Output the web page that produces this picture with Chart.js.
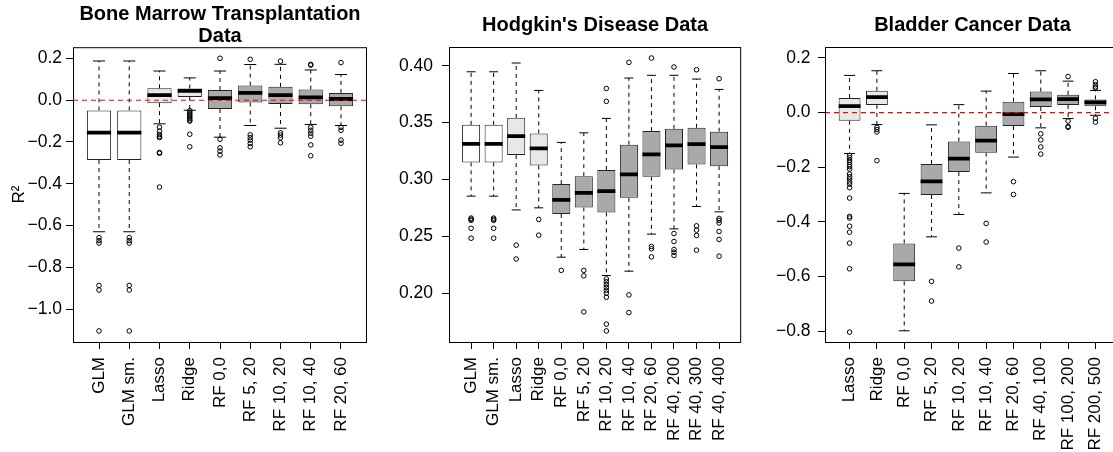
<!DOCTYPE html>
<html>
<head>
<meta charset="utf-8">
<script src="https://cdn.jsdelivr.net/npm/chart.js@4.4.1/dist/chart.umd.min.js"></script>
<style>
html, body { margin: 0; padding: 0; background: #fff; overflow: hidden; }
#wrap { position: relative; width: 1113px; height: 452px; }
canvas { position: absolute; top: 0; }
</style>
</head>
<body>
<div id="wrap">
<canvas id="bmt" width="372" height="452" style="left:0px"></canvas>
<canvas id="hod" width="376" height="452" style="left:372px"></canvas>
<canvas id="bla" width="377" height="452" style="left:748px"></canvas>
</div>
<script>
// Bone marrow transplantation
const bmtLabels = ["GLM", "GLM sm.", "Lasso", "Ridge", "RF 0,0", "RF 5, 20", "RF 10, 20", "RF 10, 40", "RF 20, 60"];
const bmtLow  = [-0.630, -0.630, -0.113, -0.048, -0.177, -0.121, -0.134, -0.116, -0.121];
const bmtQ1   = [-0.286, -0.286, -0.014, 0.016, -0.042, -0.011, -0.018, -0.019, -0.029];
const bmtMed  = [-0.155, -0.155, 0.024, 0.045, 0.010, 0.035, 0.024, 0.014, 0.006];
const bmtQ3   = [-0.049, -0.049, 0.057, 0.056, 0.049, 0.070, 0.064, 0.051, 0.035];
const bmtHigh = [0.188, 0.188, 0.140, 0.107, 0.140, 0.171, 0.172, 0.145, 0.123];
const bmtOut  = [
    [-0.658, -0.672, -0.684, -0.887, -0.909, -1.105],
    [-0.658, -0.672, -0.684, -0.887, -0.909, -1.105],
    [-0.129, -0.148, -0.164, -0.173, -0.179, -0.250, -0.254, -0.416],
    [-0.050, -0.058, -0.065, -0.072, -0.080, -0.088, -0.095, -0.100, -0.163, -0.223],
    [0.201, -0.187, -0.228, -0.244, -0.262],
    [0.196, -0.166, -0.179, -0.191, -0.207, -0.223],
    [0.187, -0.156, -0.167, -0.180, -0.204],
    [0.172, 0.168, -0.129, -0.144, -0.158, -0.172, -0.214, -0.266],
    [0.180, -0.130, -0.144, -0.191, -0.206]
];
const bmtTicks = [-1.0, -0.8, -0.6, -0.4, -0.2, 0.0, 0.2];

// Hodgkin's disease
const hodLabels = ["GLM", "GLM sm.", "Lasso", "Ridge", "RF 0,0", "RF 5, 20", "RF 10, 20", "RF 10, 40", "RF 20, 60", "RF 40, 200", "RF 40, 300", "RF 40, 400"];
const hodLow  = [0.2853, 0.2853, 0.2732, 0.2750, 0.2316, 0.2384, 0.2155, 0.2193, 0.2519, 0.2565, 0.2762, 0.2715];
const hodQ1   = [0.3150, 0.3150, 0.3214, 0.3123, 0.2697, 0.2753, 0.2710, 0.2838, 0.3023, 0.3088, 0.3132, 0.3117];
const hodMed  = [0.3313, 0.3313, 0.3381, 0.3273, 0.2820, 0.2882, 0.2897, 0.3044, 0.3220, 0.3300, 0.3311, 0.3284];
const hodQ3   = [0.3480, 0.3480, 0.3542, 0.3405, 0.2959, 0.3029, 0.3082, 0.3305, 0.3425, 0.3445, 0.3454, 0.3420];
const hodHigh = [0.3947, 0.3947, 0.4024, 0.3783, 0.3326, 0.3410, 0.3537, 0.3892, 0.3916, 0.3916, 0.3883, 0.3792];
const hodOut  = [
    [0.2660, 0.2650, 0.2640, 0.2570, 0.2483],
    [0.2660, 0.2650, 0.2640, 0.2570, 0.2483],
    [0.2422, 0.2300],
    [0.2648, 0.2510],
    [0.2200],
    [0.2200, 0.2152, 0.1835],
    [0.3800, 0.3687, 0.2125, 0.2100, 0.2075, 0.2050, 0.2025, 0.2000, 0.1964, 0.1727, 0.1667],
    [0.4030, 0.1984, 0.1829],
    [0.4068, 0.2410, 0.2390, 0.2319],
    [0.3989, 0.2524, 0.2454, 0.2384, 0.2360, 0.2331],
    [0.3965, 0.2592, 0.2554, 0.2507, 0.2378],
    [0.3886, 0.2657, 0.2640, 0.2617, 0.2542, 0.2472, 0.2325]
];
const hodTicks = [0.20, 0.25, 0.30, 0.35, 0.40];

// Bladder cancer
const blaLabels = ["Lasso", "Ridge", "RF 0,0", "RF 5, 20", "RF 10, 20", "RF 10, 40", "RF 20, 60", "RF 40, 100", "RF 100, 200", "RF 200, 500"];
const blaLow  = [-0.150, -0.044, -0.799, -0.455, -0.373, -0.294, -0.163, -0.056, -0.022, -0.010];
const blaQ1   = [-0.030, 0.028, -0.618, -0.302, -0.218, -0.147, -0.049, 0.020, 0.028, 0.023];
const blaMed  = [0.0235, 0.0565, -0.556, -0.252, -0.169, -0.103, -0.006, 0.048, 0.049, 0.037];
const blaQ3   = [0.053, 0.0796, -0.479, -0.188, -0.106, -0.048, 0.040, 0.077, 0.065, 0.048];
const blaHigh = [0.136, 0.153, -0.296, -0.045, 0.029, 0.0785, 0.143, 0.153, 0.115, 0.081];
const blaOut  = [
    [-0.157, -0.165, -0.174, -0.182, -0.191, -0.198, -0.207, -0.225, -0.235, -0.243, -0.254, -0.262, -0.275, -0.313, -0.380, -0.386, -0.416, -0.438, -0.478, -0.572, -0.804],
    [-0.054, -0.062, -0.071, -0.176],
    [],
    [-0.618, -0.690],
    [-0.496, -0.565],
    [-0.406, -0.474],
    [-0.253, -0.300],
    [-0.078, -0.100, -0.126, -0.152],
    [0.132, -0.031, -0.051, -0.054],
    [0.113, 0.102, 0.094, 0.090, -0.021, -0.035]
];
const blaTicks = [-0.8, -0.6, -0.4, -0.2, 0.0, 0.2];

const FONT = '"Liberation Sans", Arial, Helvetica, sans-serif';
Chart.defaults.font.family = FONT;
Chart.defaults.color = "#000";

function boxFill(label) {
    if (label.startsWith("RF")) return "#A9A9A9";
    if (label.startsWith("GLM")) return "#FFFFFF";
    return "#E8E8E8";
}

function fmt(v, digits) {
    return v.toFixed(digits).replace("-", "\u2212");
}

// draws the full R style frame round the plot region
const frame = {
    id: "frame",
    afterDraw(chart) {
        const a = chart.chartArea, ctx = chart.ctx;
        ctx.save();
        ctx.strokeStyle = "#000";
        ctx.lineWidth = 1;
        ctx.strokeRect(a.left + 0.5, a.top + 0.5, a.right - a.left - 1, a.bottom - a.top);
        ctx.restore();
    }
};

function boxplot(id, p) {
    const whiskers = [], caps = [], medians = [], outliers = [];
    p.labels.forEach((l, i) => {
        const x = i + 1;
        whiskers.push({x: x, y: p.q3[i]}, {x: x, y: p.high[i]}, {x: x, y: null});
        whiskers.push({x: x, y: p.q1[i]}, {x: x, y: p.low[i]}, {x: x, y: null});
        caps.push({x: x - 0.2, y: p.high[i]}, {x: x + 0.2, y: p.high[i]}, {x: x, y: null});
        caps.push({x: x - 0.2, y: p.low[i]}, {x: x + 0.2, y: p.low[i]}, {x: x, y: null});
        medians.push({x: x - 0.4, y: p.med[i]}, {x: x + 0.4, y: p.med[i]}, {x: x, y: null});
        p.out[i].forEach(v => outliers.push({x: x, y: v}));
    });

    const datasets = [
        {
            type: "scatter",
            data: outliers,
            pointStyle: "circle",
            pointRadius: 2.3,
            borderWidth: 1,
            borderColor: "#000",
            backgroundColor: "rgba(0,0,0,0)",
            order: 1
        },
        {
            type: "line",
            data: medians,
            borderColor: "#000",
            borderWidth: 3.8,
            pointRadius: 0,
            spanGaps: false,
            order: 2
        },
        {
            type: "bar",
            data: p.labels.map((l, i) => ({x: i + 1, y: [p.q1[i], p.q3[i]]})),
            backgroundColor: p.labels.map(boxFill),
            borderColor: "#222",
            borderWidth: 1,
            borderSkipped: false,
            barPercentage: 0.8,
            categoryPercentage: 1,
            order: 3
        },
        {
            type: "line",
            data: caps,
            borderColor: "#000",
            borderWidth: 1,
            pointRadius: 0,
            spanGaps: false,
            order: 4
        },
        {
            type: "line",
            data: whiskers,
            borderColor: "#000",
            borderWidth: 1,
            borderDash: [4, 4],
            pointRadius: 0,
            spanGaps: false,
            order: 5
        }
    ];

    if (p.zeroLine) {
        datasets.unshift({
            type: "line",
            data: [{x: p.xMin, y: 0}, {x: p.xMax, y: 0}],
            borderColor: "#FF0000",
            borderWidth: 1.2,
            borderDash: [5, 4],
            pointRadius: 0,
            order: 0
        });
    }

    const tickGrid = {
        display: true, offset: false, drawOnChartArea: false, drawTicks: true,
        tickLength: 7, color: "#000", lineWidth: 1
    };

    new Chart(document.getElementById(id), {
        type: "bar",
        data: {datasets: datasets},
        plugins: [frame],
        options: {
            responsive: false,
            devicePixelRatio: 1,
            animation: false,
            layout: {padding: {left: 0, right: p.padRight, top: 0, bottom: 0}},
            plugins: {
                legend: {display: false},
                tooltip: {enabled: false},
                title: {
                    display: true,
                    text: p.title,
                    fullSize: false,
                    color: "#000",
                    font: {size: 20, weight: "bold", lineHeight: "21.8px"},
                    padding: p.titlePad
                }
            },
            scales: {
                x: {
                    type: "linear",
                    min: p.xMin,
                    max: p.xMax,
                    offset: false,
                    afterBuildTicks: s => { s.ticks = p.labels.map((l, i) => ({value: i + 1})); },
                    afterFit: s => { s.height = 110; },
                    grid: tickGrid,
                    border: {display: false},
                    ticks: {
                        autoSkip: false,
                        minRotation: 90,
                        maxRotation: 90,
                        padding: 8,
                        color: "#000",
                        font: {size: 17},
                        callback: v => p.labels[Math.round(v) - 1]
                    }
                },
                y: {
                    type: "linear",
                    min: p.yMin,
                    max: p.yMax,
                    afterBuildTicks: s => { s.ticks = p.ticks.map(v => ({value: v})); },
                    afterFit: s => { s.width = p.yAxisW; },
                    grid: tickGrid,
                    border: {display: false},
                    ticks: {
                        padding: p.yPad,
                        color: "#000",
                        font: {size: 17.5},
                        callback: v => fmt(v, p.digits)
                    },
                    title: {
                        display: !!p.yTitle,
                        text: p.yTitle || "",
                        color: "#000",
                        font: {size: 17},
                        padding: {top: 9, bottom: 0}
                    }
                }
            }
        }
    });
}

boxplot("bmt", {
    title: ["Bone Marrow Transplantation", "Data"],
    titlePad: {top: 3.6, bottom: 0},
    labels: bmtLabels, low: bmtLow, q1: bmtQ1, med: bmtMed, q3: bmtQ3, high: bmtHigh, out: bmtOut,
    ticks: bmtTicks, digits: 1, yTitle: "R\u00B2",
    xMin: 0.14, xMax: 9.86, yMin: -1.158, yMax: 0.254,
    yAxisW: 73, yPad: 4, padRight: 5, zeroLine: true
});

boxplot("hod", {
    title: "Hodgkin's Disease Data",
    titlePad: {top: 14.4, bottom: 10.8},
    labels: hodLabels, low: hodLow, q1: hodQ1, med: hodMed, q3: hodQ3, high: hodHigh, out: hodOut,
    ticks: hodTicks, digits: 2,
    xMin: 0.02, xMax: 12.98, yMin: 0.157, yMax: 0.4165,
    yAxisW: 77, yPad: 9, padRight: 5, zeroLine: false
});

boxplot("bla", {
    title: "Bladder Cancer Data",
    titlePad: {top: 14.4, bottom: 10.8},
    labels: blaLabels, low: blaLow, q1: blaQ1, med: blaMed, q3: blaQ3, high: blaHigh, out: blaOut,
    ticks: blaTicks, digits: 1,
    xMin: 0.1, xMax: 10.9, yMin: -0.84, yMax: 0.24,
    yAxisW: 77, yPad: 7.5, padRight: 0, zeroLine: true
});
</script>
</body>
</html>
